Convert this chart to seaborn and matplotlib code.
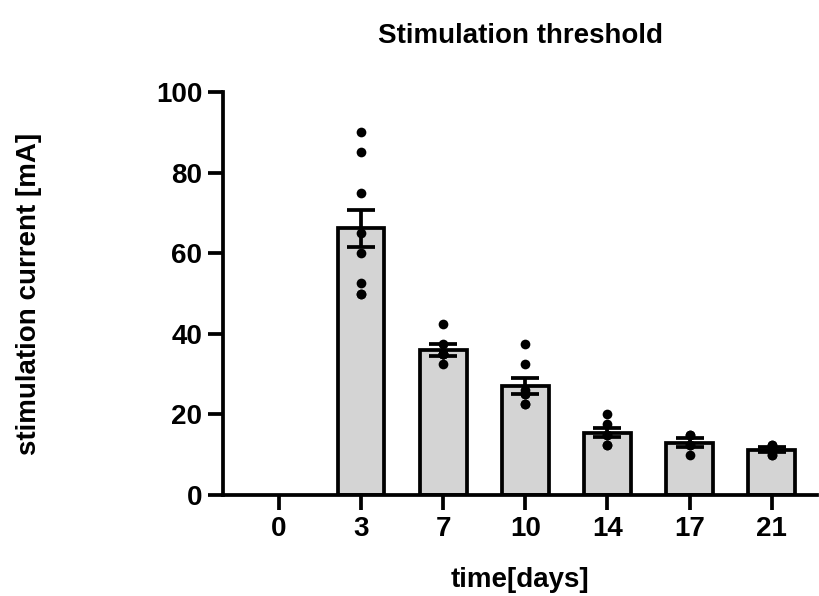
import numpy as np
import pandas as pd
import matplotlib
matplotlib.use("Agg")
import matplotlib.pyplot as plt
import seaborn as sns

# ---- data ----
days = ["0", "3", "7", "10", "14", "17", "21"]
bar_days = ["3", "7", "10", "14", "17", "21"]
means = [66.2, 36.0, 27.0, 15.5, 13.0, 11.2]
sems = [4.6, 1.4, 2.0, 1.2, 1.2, 0.6]

pts_3 = [90, 85, 75, 65, 60, 52.5, 50, 50]
pts_7 = [42.5, 37.5, 35, 35, 35, 35, 32.5]
pts_10 = [37.5, 32.5, 26, 25, 25, 22.5, 22.5]
pts_14 = [20, 17.5, 15, 15, 12.5, 12.5]
pts_17 = [15, 15, 12.5, 10, 12.5]
pts_21 = [12.5, 12.5, 11, 10, 10, 11]

title = "Stimulation threshold"
xlabel = "time[days]"
ylabel = "stimulation current [mA]"

# ---- frames ----
bars = pd.DataFrame({"day": bar_days, "mean": means, "sem": sems})
pts_all = [pts_3, pts_7, pts_10, pts_14, pts_17, pts_21]
points = pd.DataFrame({
    "day": [d for d, p in zip(bar_days, pts_all) for _ in p],
    "value": [v for p in pts_all for v in p],
})

sns.set_theme(style="ticks")
plt.rcParams["font.family"] = ["Liberation Sans", "DejaVu Sans"]
plt.rcParams["text.color"] = "black"
plt.rcParams["axes.labelcolor"] = "black"
plt.rcParams["xtick.color"] = "black"
plt.rcParams["ytick.color"] = "black"

fig = plt.figure(figsize=(8.19, 5.96), dpi=100)
ax = fig.add_axes([223 / 819, (596 - 495) / 596, (817 - 223) / 819, (495 - 92) / 596])

lw = 2.7
sns.barplot(data=bars, x="day", y="mean", order=days, width=0.57,
            color="#d4d4d4", edgecolor="black", linewidth=lw,
            errorbar=None, ax=ax, zorder=2)

xpos = [days.index(d) for d in bar_days]
ax.errorbar(xpos, means, yerr=sems, fmt="none", ecolor="black",
            elinewidth=lw, capsize=10, capthick=lw, zorder=4)

sns.stripplot(data=points, x="day", y="value", order=days, jitter=False,
              color="black", size=7, ax=ax, zorder=5, clip_on=False)

ax.set_ylim(0, 100)
ax.set_yticks([0, 20, 40, 60, 80, 100])
ax.set_xlim(-0.68, 6.55)
sns.despine(ax=ax)
for s in ["left", "bottom"]:
    ax.spines[s].set_linewidth(lw)
    ax.spines[s].set_color("black")
ax.tick_params(axis="both", length=11, width=lw, color="black",
               labelcolor="black", labelsize=20, pad=4)
for lab in ax.get_xticklabels() + ax.get_yticklabels():
    lab.set_fontweight("bold")

ax.set_title(title, fontsize=20, fontweight="bold", pad=35, color="black")
ax.set_xlabel(xlabel, fontsize=20, fontweight="bold", labelpad=18, color="black")
ax.set_ylabel(ylabel, fontsize=20, fontweight="bold", labelpad=82, color="black")

fig.savefig("out.png", dpi=100, facecolor="white")
